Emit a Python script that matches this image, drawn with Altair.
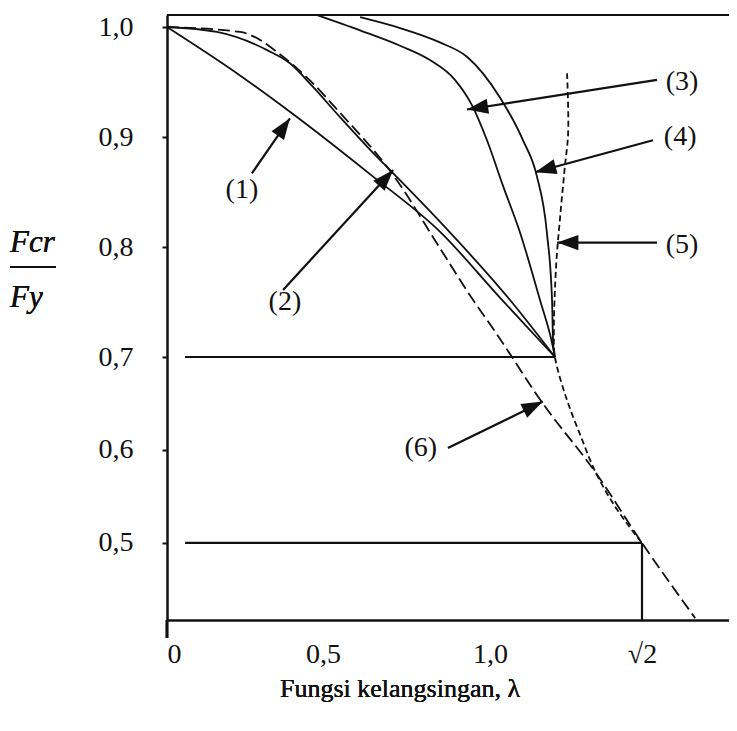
import altair as alt
import pandas as pd

INK = "#111111"
SERIF = "Liberation Serif"

# ---------------- data ----------------
# lambda (slenderness function) and Fcr/Fy for each curve
c1_lam = [0, 0.234, 0.394, 0.650, 0.850, 1.027, 1.177]
c1_val = [1.0, 0.956, 0.923, 0.864, 0.814, 0.754, 0.700]

c2_lam = [0, 0.160, 0.321, 0.394, 0.468, 0.551, 0.650, 0.710, 0.850, 1.054, 1.177]
c2_val = [1.0, 0.9955, 0.979, 0.967, 0.9455, 0.918, 0.8855, 0.867, 0.823, 0.752, 0.700]

c3_lam = [0.481, 0.611, 0.731, 0.820, 0.895, 0.946, 0.991, 1.035, 1.082, 1.136, 1.169, 1.177]
c3_val = [1.011, 0.997, 0.983, 0.970, 0.952, 0.929, 0.897, 0.856, 0.813, 0.752, 0.713, 0.700]

c4_lam = [0.611, 0.731, 0.850, 0.931, 1.027, 1.090, 1.128, 1.155, 1.169, 1.172, 1.177]
c4_val = [1.009, 0.999, 0.986, 0.973, 0.936, 0.897, 0.864, 0.813, 0.752, 0.713, 0.700]

c5_lam = [1.210, 1.213, 1.204, 1.191, 1.180, 1.174, 1.177, 1.207, 1.248, 1.289, 1.341, 1.392, 1.414]
c5_val = [0.958, 0.904, 0.873, 0.827, 0.782, 0.722, 0.700, 0.657, 0.614, 0.575, 0.539, 0.511, 0.500]

c6_lam = [0, 0.234, 0.372, 0.449, 0.551, 0.710, 0.850, 0.949, 1.011, 1.144, 1.289, 1.414, 1.559]
c6_val = [1.0, 0.9955, 0.973, 0.954, 0.922, 0.8655, 0.799, 0.752, 0.7245, 0.650, 0.575, 0.500, 0.419]

# reference lines
h_val = [1.011, 0.7, 0.5]
h_from = [0, 0.058, 0.058]
h_to = [1.651, 1.177, 1.4142]
v_lam = [1.4142]
v_from = [0.417]
v_to = [0.5]

# annotations (1)..(6)
ann_text = ["(1)", "(2)", "(3)", "(4)", "(5)", "(6)"]
ann_lam = [0.240, 0.378, 1.523, 1.518, 1.523, 0.793]
ann_val = [0.852, 0.750, 0.950, 0.900, 0.802, 0.602]
tail_lam = [0.272, 0.372, 1.455, 1.444, 1.455, 0.874]
tail_val = [0.867, 0.761, 0.952, 0.897, 0.804, 0.602]
tip_lam = [0.394, 0.710, 0.931, 1.123, 1.183, 1.144]
tip_val = [0.917, 0.870, 0.925, 0.868, 0.804, 0.652]
head_angle = [35, 42, 261, 255, 270, 64]

# axes
x_ticks = [0, 0.5, 1.0, 1.4142]
y_ticks = [0.5, 0.6, 0.7, 0.8, 0.9, 1.0]

# ---------------- tables ----------------
rows = []
for name, ls, vs in [("1", c1_lam, c1_val), ("2", c2_lam, c2_val), ("3", c3_lam, c3_val),
                     ("4", c4_lam, c4_val), ("5", c5_lam, c5_val), ("6", c6_lam, c6_val)]:
    for i, (l, v) in enumerate(zip(ls, vs)):
        rows.append({"curve": name, "lam": l, "val": v, "ord": i})
curves = pd.DataFrame(rows)

hlines = pd.DataFrame({"val": h_val, "lam": h_from, "lam2": h_to})
vlines = pd.DataFrame({"lam": v_lam, "val": v_from, "val2": v_to})
ann = pd.DataFrame({"txt": ann_text, "lam": ann_lam, "val": ann_val,
                    "tlam": tail_lam, "tval": tail_val,
                    "hlam": tip_lam, "hval": tip_val, "ang": head_angle})

W, H = 562, 605
xscale = alt.Scale(domain=[0, 0.5, 1.0, 1.4142, 1.651], range=[0, 156, 323, 475, 562],
                   zero=False, nice=False)
yscale = alt.Scale(domain=[0.417, 0.7, 1.0, 1.011], range=[605, 342, 12, 0],
                   zero=False, nice=False)

xaxis = alt.Axis(values=x_ticks,
                 labelExpr="datum.value == 0 ? '\u00a00' : (datum.value == 0.5 ? '0,5' : (datum.value == 1 ? '1,0' : '√2'))",
                 labelFont=SERIF, labelFontSize=28, labelColor=INK,
                 ticks=False, tickSize=0, labelPadding=42, labelBaseline="alphabetic",
                 labelFlush=True, labelOverlap=False,
                 domainColor=INK, domainWidth=2.5, grid=False, title="")
yaxis = alt.Axis(values=y_ticks,
                 labelExpr="replace(format(datum.value, '.1f'), '.', ',')",
                 labelFont=SERIF, labelFontSize=28, labelColor=INK,
                 tickSize=5, tickColor=INK, tickWidth=2, labelPadding=29,
                 labelAlign="right", labelBaseline="middle", labelOverlap=False, labelFlush=False,
                 domainColor=INK, domainWidth=2.5, grid=False, title="")


def X(f):
    return alt.X(f, type="quantitative", scale=xscale, axis=xaxis)


def Y(f):
    return alt.Y(f, type="quantitative", scale=yscale, axis=yaxis)


solid = alt.Chart(curves[curves["curve"].isin(["1", "2", "3", "4"])]).mark_line(
    color=INK, strokeWidth=1.8, interpolate="monotone"
).encode(x=X("lam"), y=Y("val"), detail="curve:N", order="ord:Q")

dash6 = alt.Chart(curves[curves["curve"] == "6"]).mark_line(
    color=INK, strokeWidth=1.8, strokeDash=[12, 5], interpolate="monotone"
).encode(x=X("lam"), y=Y("val"), order="ord:Q")

dash5 = alt.Chart(curves[curves["curve"] == "5"]).mark_line(
    color=INK, strokeWidth=1.8, strokeDash=[6, 3.5], interpolate="catmull-rom"
).encode(x=X("lam"), y=Y("val"), order="ord:Q")

hrules = alt.Chart(hlines).mark_rule(color=INK, strokeWidth=2.2).encode(
    x=X("lam"), x2="lam2", y=Y("val"))
vrules = alt.Chart(vlines).mark_rule(color=INK, strokeWidth=2.2).encode(
    x=X("lam"), y=Y("val"), y2="val2")

shafts = alt.Chart(ann).mark_rule(color=INK, strokeWidth=2.2).encode(
    x=X("tlam"), y=Y("tval"), x2="hlam", y2="hval")
heads = alt.Chart(ann).mark_point(
    shape="M0,0L-0.36,1L0.36,1Z", filled=True, size=1800, color=INK, opacity=1
).encode(x=X("hlam"), y=Y("hval"), angle=alt.Angle("ang:Q", scale=None))
labels = alt.Chart(ann).mark_text(
    font=SERIF, fontSize=28, color=INK, align="center", baseline="middle"
).encode(x=X("lam"), y=Y("val"), text="txt:N")

# y-axis stub below the bottom line
stub = alt.Chart(hlines).mark_rule(color=INK, strokeWidth=2.5).encode(
    x=alt.value(0), y=alt.value(H), y2=alt.value(H + 18))

# y-axis quantity label Fcr / Fy
fcr = alt.Chart(hlines).mark_text(font=SERIF, fontSize=31, fontStyle="italic", color=INK,
                                  align="left", baseline="middle", text="Fcr").encode(
    x=alt.value(-157), y=alt.value(228))
fy = alt.Chart(hlines).mark_text(font=SERIF, fontSize=31, fontStyle="italic", color=INK,
                                 align="left", baseline="middle", text="Fy").encode(
    x=alt.value(-157), y=alt.value(283))
bar = alt.Chart(hlines).mark_rule(color=INK, strokeWidth=2).encode(
    x=alt.value(-157), x2=alt.value(-111), y=alt.value(252))

xtitle = alt.Chart(hlines).mark_text(font=SERIF, fontSize=26, color=INK,
                                     align="center", baseline="alphabetic",
                                     text="Fungsi kelangsingan, λ").encode(
    x=alt.value(233), y=alt.value(682))

chart = alt.layer(
    hrules, vrules, solid, dash6, dash5, shafts, heads, labels, stub, fcr, fy, bar, xtitle
).properties(
    width=W, height=H,
    autosize=alt.AutoSizeParams(type="none"),
    padding={"left": 159, "top": 7, "right": 0, "bottom": 88},
    background="white",
).configure_view(strokeWidth=0)

chart.save("out.html", embed_options={"renderer": "svg", "actions": False})
